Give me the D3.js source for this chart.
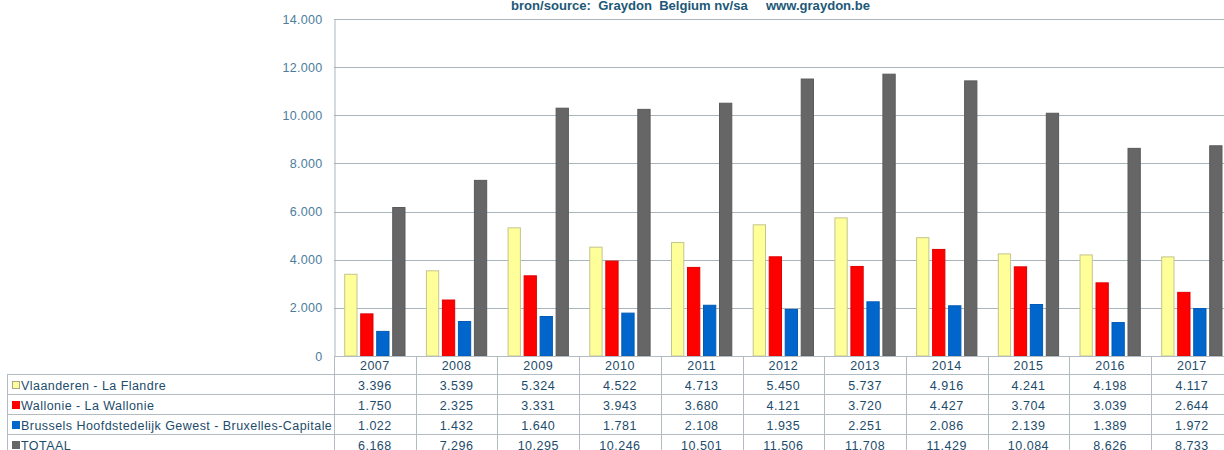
<!DOCTYPE html>
<html>
<head>
<meta charset="utf-8">
<script src="https://cdn.jsdelivr.net/npm/d3@7"></script>
<style>
html,body{margin:0;padding:0;background:#fff;}
svg{display:block;}
text{font-family:"Liberation Sans",Arial,sans-serif;}
</style>
</head>
<body>
<svg id="chart" width="1224" height="450"></svg>
<script>
const years = ["2007","2008","2009","2010","2011","2012","2013","2014","2015","2016","2017"];
const seriesNames = ["Vlaanderen - La Flandre","Wallonie - La Wallonie","Brussels Hoofdstedelijk Gewest - Bruxelles-Capitale","TOTAAL"];
const vlaanderen = [3396,3539,5324,4522,4713,5450,5737,4916,4241,4198,4117];
const wallonie   = [1750,2325,3331,3943,3680,4121,3720,4427,3704,3039,2644];
const brussels   = [1022,1432,1640,1781,2108,1935,2251,2086,2139,1389,1972];
const totaal     = [6168,7296,10295,10246,10501,11506,11708,11429,10084,8626,8733];
const yTicks = [0,2000,4000,6000,8000,10000,12000,14000];
const titleText = "bron/source:  Graydon  Belgium nv/sa     www.graydon.be";

const seriesValues = [vlaanderen, wallonie, brussels, totaal];
const colors = ["#ffff99","#ff0000","#0066cc","#666666"];
const strokes = ["#c4c48e","#e00000","#005bb5","#5a5a5a"];

const loc = d3.formatLocale({decimal:",", thousands:".", grouping:[3], currency:["€",""]});
const fmt = loc.format(",d");

const svg = d3.select("#chart");
const plotLeft = 334, plotTop = 19, plotBottom = 356, step = 81.7;
const plotRight = plotLeft + years.length * step;

const x = d3.scaleBand().domain(years).range([plotLeft, plotRight]).paddingInner(0).paddingOuter(0);
const xs = d3.scaleBand().domain(d3.range(4)).range([0, x.bandwidth()]).paddingInner(0.17).paddingOuter(0.638);
const y = d3.scaleLinear().domain([0,14000]).range([plotBottom, plotTop]);

const gridColor = "#a9b5bd";
const lineColor = "#b3bcc3";
const textColor = "#1d4c6b";
const axisText = "#4b7d9c";

// title
const tt = svg.append("text").attr("x", 511).attr("y", 9.5).attr("text-anchor","start")
  .attr("font-size", 12.8).attr("font-weight","bold").attr("fill","#1c5877")
  .style("white-space","pre").text(titleText);
const tw = tt.node().getComputedTextLength();
if (tw > 0) tt.attr("textLength", 359).attr("lengthAdjust","spacingAndGlyphs");

// gridlines
svg.append("g").selectAll("line").data(yTicks.filter(d=>d>0)).join("line")
  .attr("x1", plotLeft).attr("x2", 1224).attr("y1", d=>Math.round(y(d))+0.5).attr("y2", d=>Math.round(y(d))+0.5)
  .attr("stroke", gridColor).attr("stroke-width",1);

// y axis
const yAxis = d3.axisLeft(y).tickValues(yTicks).tickFormat(d=>fmt(d)).tickSize(0).tickPadding(12);
const gy = svg.append("g").attr("transform", `translate(${plotLeft+0.5},0)`).call(yAxis);
gy.select(".domain").attr("stroke", gridColor);
gy.selectAll("text").attr("font-size", 12.5).attr("fill", axisText).attr("font-family","Liberation Sans, Arial, sans-serif").attr("letter-spacing","0.3px");

// bars
const groups = svg.append("g").selectAll("g").data(years).join("g")
  .attr("transform", d=>`translate(${x(d)},0)`);
groups.selectAll("rect").data((d,i)=>seriesValues.map((s,k)=>({k, v:s[i]}))).join("rect")
  .attr("x", d=>xs(d.k)+0.5).attr("width", xs.bandwidth()-1)
  .attr("y", d=>y(d.v)).attr("height", d=>plotBottom - y(d.v))
  .attr("fill", d=>colors[d.k]).attr("stroke", d=>strokes[d.k]).attr("stroke-width",1);

// x axis baseline
svg.append("line").attr("x1", plotLeft).attr("x2", 1224).attr("y1", plotBottom+0.5).attr("y2", plotBottom+0.5).attr("stroke", lineColor);

// table
const rowTop = 374, rowH = 20, tableLeft = 7.5;
const tbl = svg.append("g");
tbl.selectAll("line.h").data(d3.range(4)).join("line").attr("class","h")
  .attr("x1", tableLeft).attr("x2", 1224)
  .attr("y1", d=>rowTop + d*rowH + 0.5).attr("y2", d=>rowTop + d*rowH + 0.5)
  .attr("stroke", lineColor);
tbl.append("line").attr("x1", tableLeft).attr("x2", tableLeft).attr("y1", rowTop).attr("y2", 450).attr("stroke", lineColor);
tbl.selectAll("line.v").data(d3.range(years.length+1)).join("line").attr("class","v")
  .attr("x1", d=>Math.round(plotLeft + d*step)+0.5).attr("x2", d=>Math.round(plotLeft + d*step)+0.5)
  .attr("y1", plotBottom).attr("y2", 450).attr("stroke", lineColor);

tbl.selectAll("text.yr").data(years).join("text").attr("class","yr")
  .attr("x", d=>x(d)+x.bandwidth()/2).attr("y", 370)
  .attr("text-anchor","middle").attr("font-size", 12.5).attr("letter-spacing","0.5px").attr("fill", textColor).text(d=>d);

seriesNames.forEach((name,k)=>{
  const cy = rowTop + k*rowH;
  tbl.append("rect").attr("x", 12.5).attr("y", cy+7.5).attr("width", 7).attr("height", 7)
    .attr("fill", colors[k]).attr("stroke", k===0 ? "#a8a88a" : colors[k]).attr("stroke-width", 1);
  tbl.append("text").attr("x", 21).attr("y", cy+15.5).attr("font-size", 12.5).attr("letter-spacing","0.45px")
    .attr("fill", textColor).text(name);
  tbl.selectAll(null).data(seriesValues[k]).join("text")
    .attr("x", (d,i)=>x(years[i])+x.bandwidth()/2).attr("y", cy+15.5)
    .attr("text-anchor","middle").attr("font-size", 12.5).attr("letter-spacing","0.5px")
    .attr("fill", textColor).text(d=>fmt(d));
});
</script>
</body>
</html>
